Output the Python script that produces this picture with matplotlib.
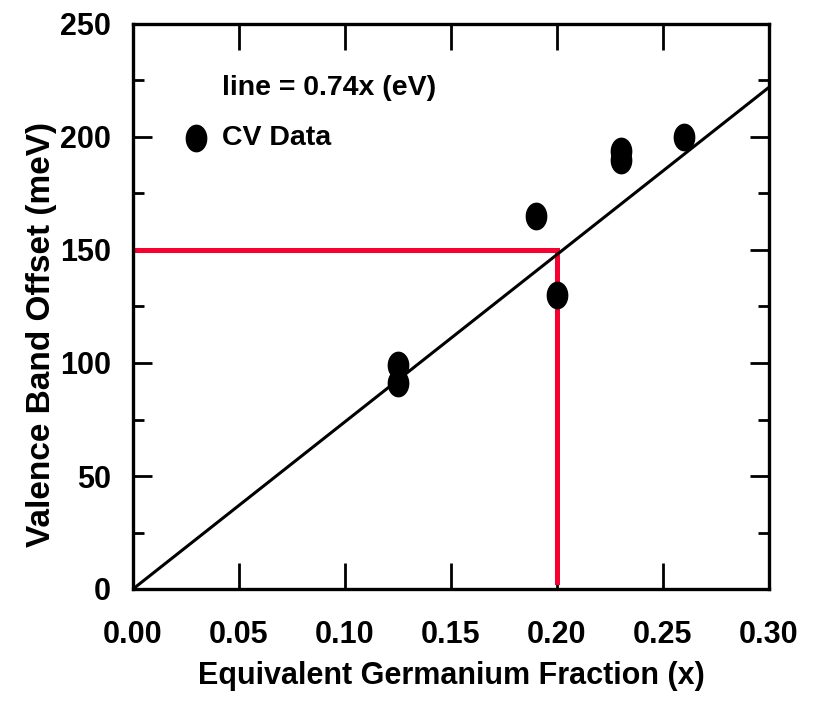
import numpy as np
import matplotlib
matplotlib.use("Agg")
import matplotlib.pyplot as plt
from matplotlib import font_manager
from matplotlib.path import Path

# Data
x_data = [0.125, 0.125, 0.19, 0.20, 0.23, 0.23, 0.26]
y_data = [99, 91, 165, 130, 194, 190, 200]
slope_meV = 740  # line = 0.74x (eV)
line_x = [0.0, 0.30]
guide_x = 0.20
guide_y = 150
x_ticks = [0.00, 0.05, 0.10, 0.15, 0.20, 0.25, 0.30]
y_ticks = [0, 50, 100, 150, 200, 250]

names = {f.name for f in font_manager.fontManager.ttflist}
fam = "Liberation Sans Narrow" if "Liberation Sans Narrow" in names else "Liberation Sans"
plt.rcParams['font.family'] = [fam, 'DejaVu Sans']
plt.rcParams['font.weight'] = 'bold'

fig = plt.figure(figsize=(8.14, 7.04), dpi=100)
ax = fig.add_axes([133/814, 1-589/704, (769-133)/814, (589-24)/704])

# elliptical marker (taller than wide)
t = np.linspace(0, 2*np.pi, 60)
verts = np.column_stack([0.77*np.cos(t), np.sin(t)])
ell = Path(verts, closed=True)

lx = np.array(line_x)
ax.plot(lx, slope_meV*lx, color='black', lw=2.2, zorder=3)
ax.plot([0, guide_x, guide_x], [guide_y, guide_y, 3], color='#f5002f', lw=3.6, zorder=2, solid_joinstyle='miter')
ax.plot(x_data, y_data, linestyle='none', marker=ell, markersize=19, color='black', zorder=4)

ax.set_xlim(0, 0.30)
ax.set_ylim(0, 250)
ax.set_xticks(x_ticks)
ax.set_xticklabels([f"{v:.2f}" for v in x_ticks])
ax.set_yticks(y_ticks)
ax.set_yticks(np.arange(25, 250, 50), minor=True)

for s in ax.spines.values():
    s.set_linewidth(2.4)

ax.tick_params(axis='x', which='major', direction='in', length=19, width=2, top=True, bottom=True,
               labelsize=22, pad=22)
ax.tick_params(axis='y', which='major', direction='in', length=14, width=2, left=True, right=True,
               labelsize=22, pad=16)
ax.tick_params(axis='y', which='minor', direction='in', length=8, width=2, left=True, right=True)
for lab in ax.get_xticklabels() + ax.get_yticklabels():
    lab.set_fontweight('bold')

ax.set_xlabel("Equivalent Germanium Fraction (x)", fontsize=22, fontweight='bold', labelpad=8)
ax.set_ylabel("Valence Band Offset (meV)", fontsize=24, fontweight='bold')
ax.yaxis.set_label_coords(-0.12, 0.451)

ax.text(222/814, 1-88/704, "line = 0.74x (eV)", transform=fig.transFigure, fontsize=20.5,
        fontweight='bold', va='center', ha='left')
ax.text(222/814, 1-138/704, "CV Data", transform=fig.transFigure, fontsize=20.5,
        fontweight='bold', va='center', ha='left')
fig.lines.append(plt.Line2D([196/814], [1-138/704], transform=fig.transFigure, marker=ell,
                            markersize=19, color='black', linestyle='none'))

fig.savefig("out.png", dpi=100)
